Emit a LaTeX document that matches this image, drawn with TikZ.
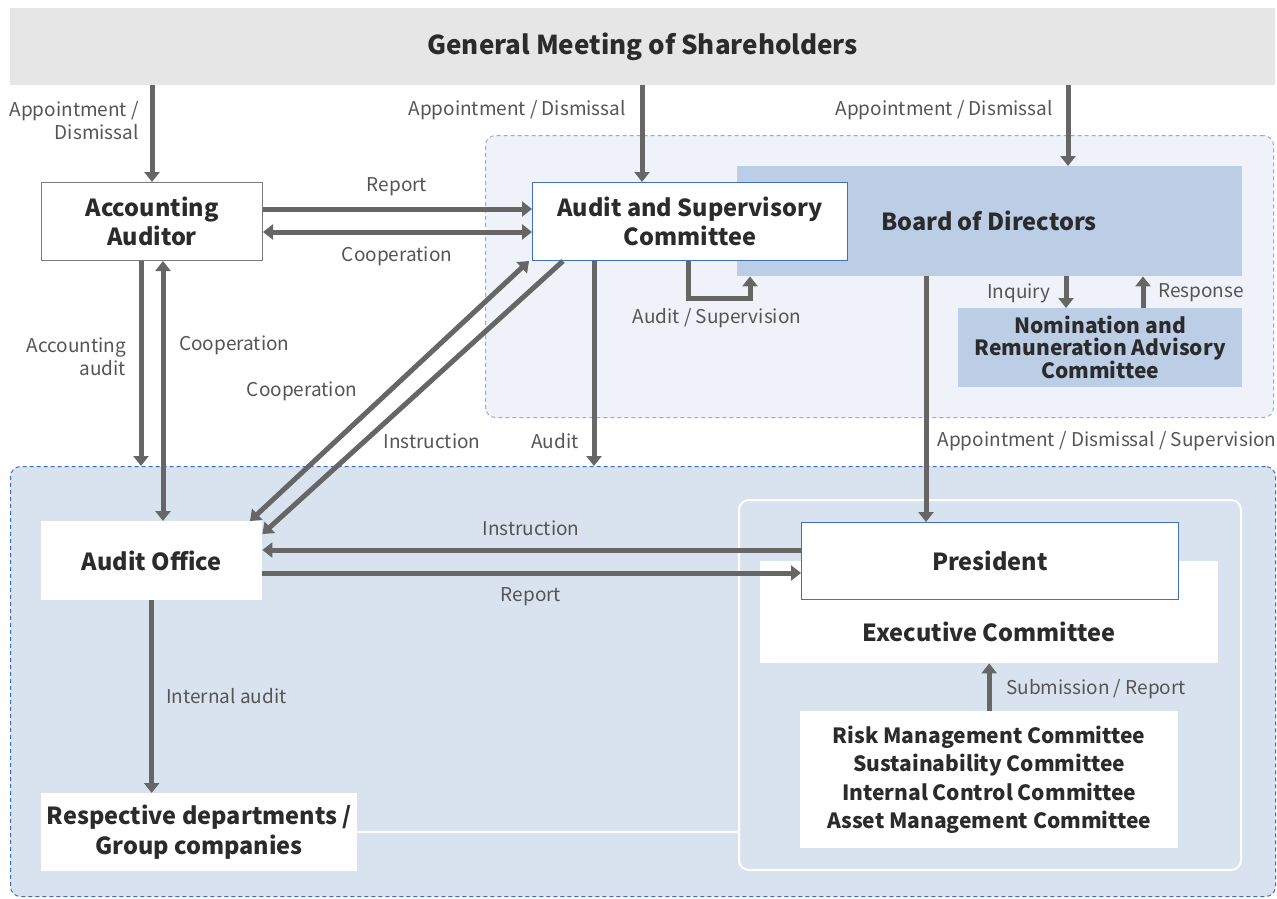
\documentclass[tikz,border=0pt]{standalone}
\usepackage{fontspec}
\setmainfont{Noto Sans CJK JP}
\usetikzlibrary{arrows.meta}
\definecolor{bannergray}{HTML}{E6E6E6}
\definecolor{regl}{HTML}{EFF3F9}
\definecolor{regld}{HTML}{8DAEDB}
\definecolor{regb}{HTML}{D9E3F0}
\definecolor{regbd}{HTML}{3B6CC0}
\definecolor{boardfill}{HTML}{BCCDE6}
\definecolor{blueline}{HTML}{3F6FBF}
\definecolor{boxgray}{HTML}{7A7A7A}
\definecolor{arrowgray}{HTML}{666666}
\definecolor{labelgray}{HTML}{555555}
\definecolor{textdark}{HTML}{2B2B2B}
\begin{document}
\begin{tikzpicture}[x=1pt,y=-1pt,
  box/.style={anchor=north west, inner sep=0pt, align=center, text=textdark,
    font=\fontsize{23.5}{29}\selectfont\bfseries},
  whitebox/.style={box, fill=white},
  region/.style={anchor=north west, inner sep=0pt, rounded corners=10pt,
    line width=1pt, dash pattern=on 4pt off 3pt},
  arr/.style={draw=arrowgray, line width=5pt, line join=miter,
    -{Triangle[length=10pt,width=15pt]}},
  darr/.style={draw=arrowgray, line width=5pt,
    {Triangle[length=10pt,width=15pt]}-{Triangle[length=10pt,width=15pt]}},
  lbl/.style={inner sep=0pt, text=labelgray, font=\fontsize{19}{23}\selectfont},
]
\useasboundingbox (0,0) rectangle (1277,899);
\fill[white] (0,0) rectangle (1277,899);

% regions
\node[region, fill=regl, draw=regld, minimum width=788, minimum height=282] (upper) at (485,135) {};
\node[region, fill=regb, draw=regbd, minimum width=1265, minimum height=430] (lower) at (10,466) {};

% banner
\node[box, fill=bannergray, minimum width=1265, minimum height=77,
  font=\fontsize{26}{30}\selectfont\bfseries] (gm) at (10,8) {General Meeting of Shareholders};

% inner executive frame
\node[anchor=north west, inner sep=0pt, draw=white, line width=2pt, rounded corners=10pt,
  minimum width=502, minimum height=370] (inner) at (738,499) {};

% upper boxes
\node[whitebox, draw=boxgray, line width=1pt, minimum width=221, minimum height=78] (aa) at (41,182) {Accounting\\Auditor};
\node[box, fill=boardfill, minimum width=505, minimum height=110] (bod) at (737,166) {};
\node[box, anchor=center] (bodtext) at (989,221) {Board of Directors};
\node[whitebox, draw=blueline, line width=1pt, minimum width=315, minimum height=78] (asc) at (532,182) {Audit and Supervisory\\Committee};
\node[box, fill=boardfill, minimum width=284, minimum height=79,
  font=\fontsize{21}{22}\selectfont\bfseries] (nom) at (958,308) {Nomination and\\Remuneration Advisory\\Committee};

% lower boxes
\node[whitebox, minimum width=221, minimum height=79] (ao) at (41,521) {Audit Office};
\node[whitebox, minimum width=316, minimum height=78,
  font=\fontsize{23.5}{30}\selectfont\bfseries] (rd) at (41,793) {Respective departments /\\Group companies};
\node[whitebox, minimum width=458, minimum height=102] (exec) at (760,561) {};
\node[box, anchor=center] (exectext) at (989,632) {Executive Committee};
\node[whitebox, draw=blueline, line width=1pt, minimum width=377, minimum height=77] (pres) at (801,522) {President};
\node[whitebox, minimum width=378, minimum height=137,
  font=\fontsize{21}{28.3}\selectfont\bfseries] (risk) at (800,711)
  {Risk Management Committee\\Sustainability Committee\\Internal Control Committee\\Asset Management Committee};

% white connector line
\draw[white, line width=2pt] (rd.east) -- (rd.east -| inner.west);

% arrows
\draw[arr] (gm.south -| aa.north) -- (aa.north);
\draw[arr] (gm.south -| 642,0) -- (asc.north -| 642,0);
\draw[arr] (gm.south -| 1068,0) -- (bod.north -| 1068,0);
\draw[arr] (aa.east |- 0,209) -- (asc.west |- 0,209);
\draw[darr] (aa.east |- 0,232) -- (asc.west |- 0,232);
\draw[arr] (aa.south -| 141,0) -- (lower.north -| 141,0);
\draw[darr] (aa.south -| 163,0) -- (ao.north -| 163,0);
\draw[darr] (asc.south -| 529,0) -- (ao.north -| 250,0);
\draw[arr] (asc.south -| 563,0) -- (ao.east |- 0,534);
\draw[arr] (asc.south -| 594,0) -- (lower.north -| 594,0);
\draw[arr] (asc.south -| 688,0) -- (688,298) -- (750,298) -- (bod.south -| 750,0);
\draw[arr] (bod.south -| 926,0) -- (pres.north -| 926,0);
\draw[arr] (bod.south -| 1066,0) -- (nom.north -| 1066,0);
\draw[arr] (nom.north -| 1143,0) -- (bod.south -| 1143,0);
\draw[arr] (pres.west |- 0,550) -- (ao.east |- 0,550);
\draw[arr] (ao.east |- 0,573) -- (pres.west |- 0,573);
\draw[arr] (ao.south) -- (rd.north -| ao.south);
\draw[arr] (risk.north) -- (exec.south);

% labels
\node[lbl, anchor=east, align=right] (l1) at (139,121) {Appointment /\\Dismissal};
\node[lbl, anchor=east] (l2) at (626,110) {Appointment / Dismissal};
\node[lbl, anchor=east] (l3) at (1053,110) {Appointment / Dismissal};
\node[lbl] (l4) at (397,187) {Report};
\node[lbl] (l5) at (397,256) {Cooperation};
\node[lbl, anchor=east, align=right] (l6) at (126,357) {Accounting\\audit};
\node[lbl, anchor=west] (l7) at (179,345) {Cooperation};
\node[lbl] (l8) at (302,391) {Cooperation};
\node[lbl] (l9) at (432,441) {Instruction};
\node[lbl] (l10) at (555,441) {Audit};
\node[lbl] (l11) at (717,318) {Audit / Supervision};
\node[lbl, anchor=east] (l12) at (1051,293) {Inquiry};
\node[lbl, anchor=west] (l13) at (1158,293) {Response};
\node[lbl] (l14) at (1107,441) {Appointment / Dismissal / Supervision};
\node[lbl] (l15) at (531,528) {Instruction};
\node[lbl] (l16) at (531,597) {Report};
\node[lbl, anchor=west] (l17) at (166,696) {Internal audit};
\node[lbl, anchor=west] (l18) at (1006,689) {Submission / Report};
\end{tikzpicture}
\end{document}
